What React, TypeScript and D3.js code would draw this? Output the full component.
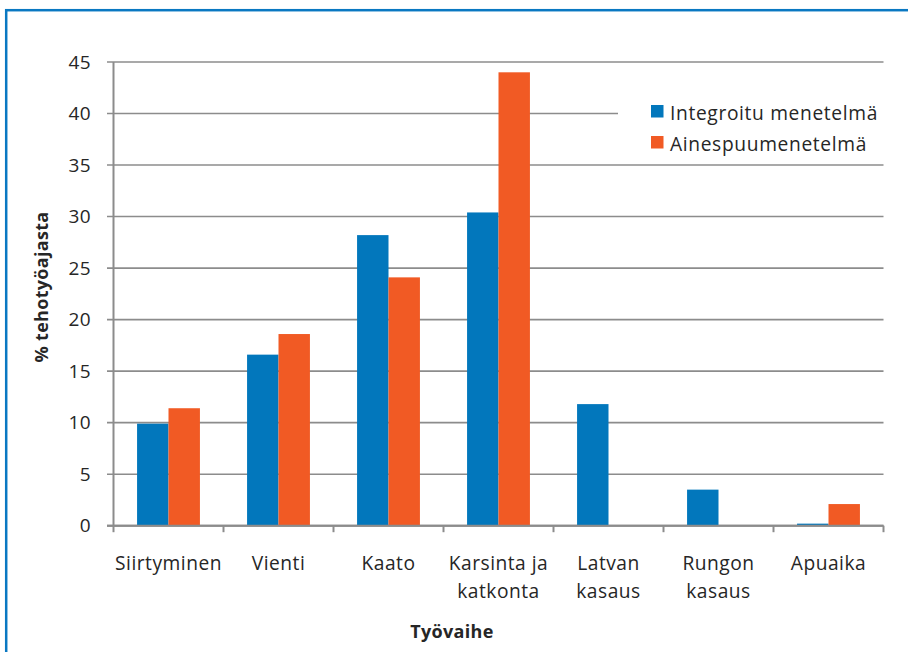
import React from "react";
import * as d3 from "d3";

const categories: string[][] = [
  ["Siirtyminen"],
  ["Vienti"],
  ["Kaato"],
  ["Karsinta ja", "katkonta"],
  ["Latvan", "kasaus"],
  ["Rungon", "kasaus"],
  ["Apuaika"],
];
const seriesNames = ["Integroitu menetelmä", "Ainespuumenetelmä"];
const integroitu = [9.9, 16.6, 28.2, 30.4, 11.8, 3.5, 0.2];
const ainespuu = [11.4, 18.6, 24.1, 44.0, 0, 0, 2.1];
const yTicks = [0, 5, 10, 15, 20, 25, 30, 35, 40, 45];
const yTitle = "% tehotyöajasta";
const xTitle = "Työvaihe";

const COLORS = ["#0277BC", "#F15A24"];
const GRID = "#8C8C8C";
const TEXT = "#262626";
const FONT = "'Open Sans', sans-serif";

export default function App() {
  const width = 908;
  const height = 652;
  const left = 113.5;
  const right = 883.5;
  const top = 62;
  const bottom = 525.7;

  const keys = categories.map((c) => c.join(" "));
  const x = d3.scaleBand<string>().domain(keys).range([left, right]).padding(0);
  const xs = d3
    .scaleBand<string>()
    .domain(seriesNames)
    .range([0, x.bandwidth()])
    .paddingInner(0)
    .paddingOuter(0.75);
  const y = d3.scaleLinear().domain([0, 45]).range([bottom, top]);
  const values = [integroitu, ainespuu];

  const boundaries = [...keys.map((k) => x(k)!), right];

  return (
    <svg
      width={width}
      height={height}
      style={{ position: "absolute", left: 0, top: 0, background: "#fff" }}
      fontFamily={FONT}
    >
      <rect x={0} y={0} width={width} height={height} fill="#fff" />
      {/* outer frame */}
      <rect x={6.2} y={10.2} width={width + 20} height={height + 20} fill="none" stroke="#0A78C2" strokeWidth={2.5} />

      {/* gridlines and y ticks */}
      {yTicks.map((t) => (
        <g key={t}>
          <line x1={107} x2={right} y1={y(t)} y2={y(t)} stroke={GRID} strokeWidth={t === 0 ? 2 : 1.6} />
          <text x={91} y={y(t)} dy="0.35em" textAnchor="end" fontSize={19} letterSpacing={0.4} fill={TEXT}>
            {t}
          </text>
        </g>
      ))}

      {/* bars */}
      {seriesNames.map((s, si) =>
        keys.map((k, i) => {
          const v = values[si][i];
          if (v <= 0) return null;
          return (
            <rect
              key={s + k}
              x={x(k)! + xs(s)!}
              y={y(v)}
              width={xs.bandwidth()}
              height={y(0) - y(v)}
              fill={COLORS[si]}
            />
          );
        })
      )}

      {/* axes */}
      <line x1={left} x2={left} y1={top} y2={bottom} stroke={GRID} strokeWidth={2} />
      <line x1={107} x2={right} y1={bottom} y2={bottom} stroke={GRID} strokeWidth={2} />
      {boundaries.map((b, i) => (
        <line key={i} x1={b} x2={b} y1={bottom} y2={bottom + 6.5} stroke={GRID} strokeWidth={2} />
      ))}

      {/* category labels */}
      {categories.map((lines, i) => (
        <text
          key={keys[i]}
          x={x(keys[i])! + x.bandwidth() / 2}
          y={563}
          textAnchor="middle"
          fontSize={19.2}
          letterSpacing={0.5}
          fill={TEXT}
        >
          {lines.map((ln, j) => (
            <tspan key={j} x={x(keys[i])! + x.bandwidth() / 2} dy={j === 0 ? "0.35em" : 28.5}>
              {ln}
            </tspan>
          ))}
        </text>
      ))}

      {/* axis titles */}
      <text
        transform={`translate(42,287) rotate(-90)`}
        textAnchor="middle"
        dy="0.35em"
        fontSize={18}
        fontWeight="bold"
        letterSpacing={0.3}
        fill={TEXT}
      >
        {yTitle}
      </text>
      <text x={452} y={632} dy="0.35em" textAnchor="middle" fontSize={18} fontWeight="bold" letterSpacing={0.3} fill={TEXT}>
        {xTitle}
      </text>

      {/* legend */}
      <rect x={618} y={76} width={268} height={82} fill="#fff" />
      {seriesNames.map((s, i) => (
        <g key={s} transform={`translate(651,${105 + i * 31})`}>
          <rect x={0} y={0} width={12.5} height={12.5} fill={COLORS[i]} />
          <text x={19} y={8} dy="0.35em" fontSize={19.2} letterSpacing={0.65} fill={TEXT}>
            {s}
          </text>
        </g>
      ))}
    </svg>
  );
}
